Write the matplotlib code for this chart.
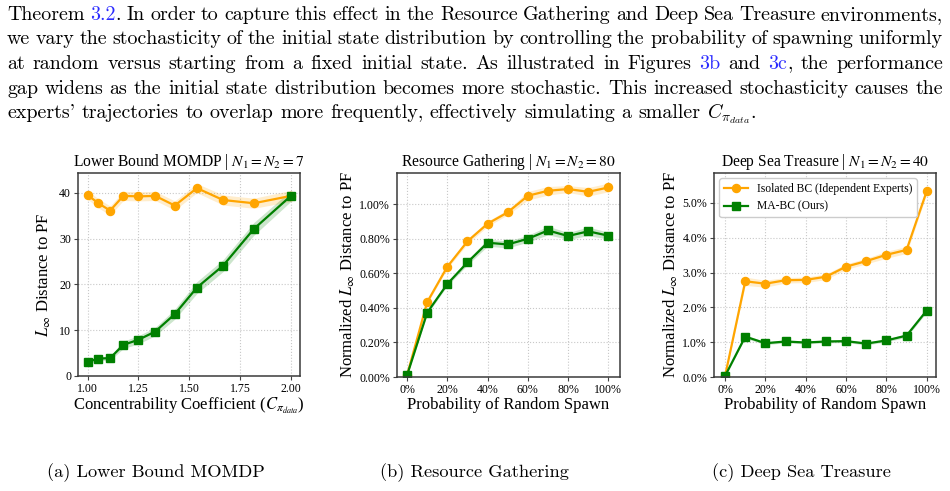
import matplotlib
matplotlib.use("Agg")
import matplotlib.pyplot as plt
from matplotlib.ticker import FuncFormatter

plt.rcParams['font.family'] = ['Liberation Serif', 'DejaVu Serif']
plt.rcParams['mathtext.fontset'] = 'stix'

# ---- data ----
# (a) lower bound MOMDP
conc = [1.00, 1.053, 1.111, 1.176, 1.25, 1.333, 1.429, 1.538, 1.667, 1.818, 2.00]
lb_iso = [39.5, 37.7, 36.1, 39.3, 39.2, 39.3, 37.2, 41.0, 38.4, 37.7, 39.3]
lb_iso_sd = [0.9, 1.0, 1.0, 1.0, 1.0, 1.0, 1.0, 1.0, 1.1, 1.1, 1.2]
lb_ma = [3.1, 3.8, 3.9, 6.8, 7.9, 9.7, 13.5, 19.3, 24.1, 32.1, 39.3]
lb_ma_sd = [0.4, 0.4, 0.5, 0.8, 0.9, 0.9, 1.1, 1.3, 1.3, 1.4, 1.2]

# (b) resource gathering, (c) deep sea treasure  (percent)
spawn = [0, 10, 20, 30, 40, 50, 60, 70, 80, 90, 100]
rg_iso = [0.01, 0.434, 0.639, 0.786, 0.888, 0.954, 1.050, 1.079, 1.089, 1.073, 1.098]
rg_iso_sd = [0.0, 0.01, 0.01, 0.015, 0.015, 0.015, 0.025, 0.025, 0.02, 0.025, 0.025]
rg_ma = [0.01, 0.373, 0.539, 0.664, 0.778, 0.768, 0.801, 0.849, 0.817, 0.844, 0.819]
rg_ma_sd = [0.0, 0.01, 0.01, 0.015, 0.02, 0.02, 0.02, 0.025, 0.02, 0.025, 0.02]
dst_iso = [0.03, 2.75, 2.68, 2.78, 2.79, 2.88, 3.17, 3.33, 3.51, 3.65, 5.34]
dst_iso_sd = [0.0, 0.12, 0.1, 0.08, 0.08, 0.08, 0.08, 0.08, 0.1, 0.1, 0.08]
dst_ma = [0.03, 1.16, 0.97, 1.02, 0.99, 1.02, 1.03, 0.96, 1.05, 1.19, 1.91]
dst_ma_sd = [0.0, 0.05, 0.04, 0.04, 0.04, 0.04, 0.04, 0.04, 0.04, 0.05, 0.05]

iso_label = "Isolated BC (Idependent Experts)"
ma_label = "MA-BC (Ours)"

# words between @...@ are blue (cross references)
para = [
    "Theorem @3.2@. In order to capture this effect in the Resource Gathering and Deep Sea Treasure environments,",
    "we vary the stochasticity of the initial state distribution by controlling the probability of spawning uniformly",
    "at random versus starting from a fixed initial state. As illustrated in Figures @3b@ and @3c@, the performance",
    "gap widens as the initial state distribution becomes more stochastic. This increased stochasticity causes the",
    "experts' trajectories to overlap more frequently, effectively simulating a smaller $C_{\\pi_{data}}$.",
]
captions = ["(a) Lower Bound MOMDP", "(b) Resource Gathering", "(c) Deep Sea Treasure"]

W, H = 950, 491
fig = plt.figure(figsize=(W / 100, H / 100), dpi=100)

def box(l, r, t, b):
    return [l / W, 1 - b / H, (r - l) / W, (b - t) / H]

ax1 = fig.add_axes(box(78, 300, 173, 376))
ax2 = fig.add_axes(box(397, 620, 173, 377))
ax3 = fig.add_axes(box(714, 936, 173, 377))

ORANGE = 'orange'
GREEN = 'green'

def draw(ax, x, a, asd, b, bsd):
    lo = [v - s for v, s in zip(a, asd)]
    hi = [v + s for v, s in zip(a, asd)]
    ax.fill_between(x, lo, hi, color=ORANGE, alpha=0.2, lw=0)
    ax.plot(x, a, color=ORANGE, marker='o', ms=5.8, lw=1.6, label=iso_label)
    lo = [v - s for v, s in zip(b, bsd)]
    hi = [v + s for v, s in zip(b, bsd)]
    ax.fill_between(x, lo, hi, color=GREEN, alpha=0.2, lw=0)
    ax.plot(x, b, color=GREEN, marker='s', ms=5.6, lw=1.6, label=ma_label)
    ax.grid(True, linestyle=':', color='#c8c8c8', lw=0.8)
    ax.set_axisbelow(True)
    for s in ax.spines.values():
        s.set_color('#3a3a3a')
        s.set_linewidth(1.1)
    ax.tick_params(labelsize=8.6, length=3, width=0.8, color='#444444', pad=2)

draw(ax1, conc, lb_iso, lb_iso_sd, lb_ma, lb_ma_sd)
ax1.set_xlim(0.953, 2.045)
ax1.set_ylim(0, 44.3)
ax1.set_xticks([1.0, 1.25, 1.5, 1.75, 2.0])
ax1.set_yticks([0, 10, 20, 30, 40])
ax1.xaxis.set_major_formatter(FuncFormatter(lambda v, p: f"{v:.2f}"))
ax1.set_title(r"Lower Bound MOMDP | $N_1 = N_2 = 7$", fontsize=11.2, pad=5)
ax1.set_xlabel(r"Concentrability Coefficient ($C_{\pi_{data}}$)", fontsize=12, labelpad=1)
ax1.set_ylabel(r"$L_\infty$ Distance to PF", fontsize=12, labelpad=4)

draw(ax2, spawn, rg_iso, rg_iso_sd, rg_ma, rg_ma_sd)
ax2.set_xlim(-5, 105.8)
ax2.set_ylim(0, 1.182)
ax2.set_xticks(range(0, 101, 20))
ax2.set_yticks([0, 0.2, 0.4, 0.6, 0.8, 1.0])
ax2.xaxis.set_major_formatter(FuncFormatter(lambda v, p: f"{v:.0f}%"))
ax2.yaxis.set_major_formatter(FuncFormatter(lambda v, p: f"{v:.2f}%"))
ax2.set_title(r"Resource Gathering | $N_1 = N_2 = 80$", fontsize=11.2, pad=5)
ax2.set_xlabel("Probability of Random Spawn", fontsize=12, labelpad=1)
ax2.set_ylabel(r"Normalized $L_\infty$ Distance to PF", fontsize=12, labelpad=2)

draw(ax3, spawn, dst_iso, dst_iso_sd, dst_ma, dst_ma_sd)
ax3.set_xlim(-5.5, 104.6)
ax3.set_ylim(0, 5.86)
ax3.set_xticks(range(0, 101, 20))
ax3.set_yticks(range(0, 6))
ax3.xaxis.set_major_formatter(FuncFormatter(lambda v, p: f"{v:.0f}%"))
ax3.yaxis.set_major_formatter(FuncFormatter(lambda v, p: f"{v:.1f}%"))
ax3.set_title(r"Deep Sea Treasure | $N_1 = N_2 = 40$", fontsize=11.2, pad=5)
ax3.set_xlabel("Probability of Random Spawn", fontsize=12, labelpad=1)
ax3.set_ylabel(r"Normalized $L_\infty$ Distance to PF", fontsize=12, labelpad=2)
ax3.legend(loc='upper left', fontsize=8.4, borderaxespad=0.45, handlelength=2.1,
           handletextpad=0.7, edgecolor='#cccccc', framealpha=1)

# ---- paragraph above the figure, justified word by word ----
BODY = dict(family=['cmr10', 'DejaVu Serif'], fontsize=14.4, math_fontfamily='cm')
CAP = dict(family=['cmr10', 'DejaVu Serif'], fontsize=13.2)
BLUE = '#2b2bff'
x0, x1 = 7, 943
base = [20, 44.5, 69, 93.5, 118]
r = fig.canvas.get_renderer()

def segments(word):
    out = []
    for k, s in enumerate(word.split('@')):
        if s:
            out.append((s, BLUE if k % 2 else 'black'))
    return out

a = fig.text(0, 0, 'a a', **BODY)
b = fig.text(0, 0, 'aa', **BODY)
space = a.get_window_extent(r).width - b.get_window_extent(r).width
a.remove()
b.remove()

for i, line in enumerate(para):
    words = []
    for w in line.split(' '):
        parts = []
        for s, c in segments(w):
            t = fig.text(0, 1 - base[i] / H, s, color=c, va='baseline', **BODY)
            parts.append((t, t.get_window_extent(r).width))
        words.append(parts)
    total = sum(wd for parts in words for _, wd in parts)
    if i < len(para) - 1:
        gap = (x1 - x0 - total) / (len(words) - 1)
    else:
        gap = space
    x = x0
    for parts in words:
        for t, wd in parts:
            t.set_x(x / W)
            x += wd
        x += gap

cap_x = [156, 474, 801]
for cx, c in zip(cap_x, captions):
    fig.text(cx / W, 1 - 473 / H, c, ha='center', va='center', **CAP)

fig.savefig("out.png", dpi=100)
